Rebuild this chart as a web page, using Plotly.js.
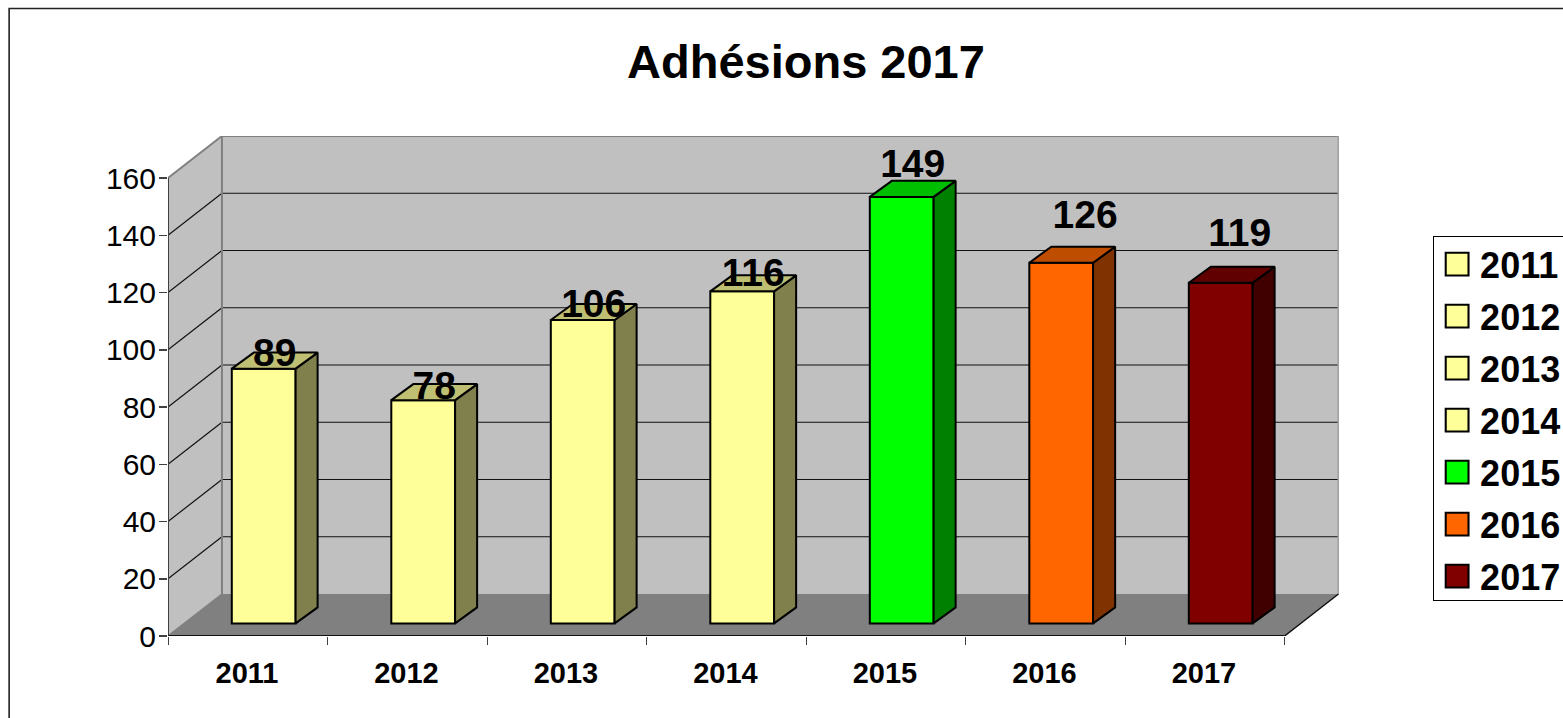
<!DOCTYPE html>
<html>
<head>
<meta charset="utf-8">
<script src="https://cdn.plot.ly/plotly-3.0.1.min.js"></script>
<style>html,body{margin:0;padding:0;background:#fff;overflow:hidden}</style>
</head>
<body>
<div id="chart" style="width:1563px;height:718px"></div>
<script>
// ---- data ----
const years = ['2011','2012','2013','2014','2015','2016','2017'];
const adhesions = [89,78,106,116,149,126,119];
const yTicks = [0,20,40,60,80,100,120,140,160];
// ---- colours ----
const frontColors = ['#FFFF99','#FFFF99','#FFFF99','#FFFF99','#00FF00','#FF6600','#800000'];
const topColors   = ['#BFBF73','#BFBF73','#BFBF73','#BFBF73','#00BF00','#BF4D00','#600000'];
const sideColors  = ['#80804D','#80804D','#80804D','#80804D','#008000','#803300','#400000'];
// ---- label nudges (value / category units) ----
const labelLift  = [4.7,4.1,4.5,5.5,10.4,15.7,16.4];
const labelShift = [0,0,0,0,0,0.081,0.05];
// ---- pseudo-3D geometry, in axis units ----
const FONT = '"Liberation Sans", Arial, sans-serif';
const L = 167.5, R = 1339.5, T = 136, B = 636, W = 1563, H = 718;
const catPx = 159.64, valPx = 2.8625;
const xMin = -0.5, xMax = xMin + (R - L) / catPx, yMax = (B - T) / valPx;
const wallDx = 54 / catPx, wallDy = yMax - 160;
const barOffset = 0.1, barBase = 4.4, barWidth = 0.4;
const barDx = 0.138, barDy = 5.6;
const xEnd = 6.5;

const px = v => (v - L) / (R - L);
const py = v => (B - v) / (B - T);

function poly(xs, ys, color, lineColor, lw, layer) {
  const d = xs.map((x, i) => (i ? 'L' : 'M') + x + ',' + ys[i]).join(' ') + ' Z';
  return {type:'path', xref:'x', yref:'y', path:d, fillcolor:color,
          line:{color:lineColor, width:lw}, layer:layer || 'below'};
}
function seg(x0, y0, x1, y1, color, lw) {
  return {type:'line', xref:'x', yref:'y', x0, y0, x1, y1,
          line:{color, width:lw}, layer:'below'};
}

const shapes = [];
// outer frame
shapes.push({type:'rect', xref:'paper', yref:'paper', x0:px(8.5), x1:px(W + 20), y0:py(8.5), y1:py(H + 20),
             line:{color:'#222', width:1.6}, fillcolor:'rgba(0,0,0,0)', layer:'below'});
// side wall, back wall, floor
shapes.push(poly([xMin,xMin+wallDx,xMin+wallDx,xMin],[0,wallDy,160+wallDy,160],'#C0C0C0','#C0C0C0',0));
shapes.push(poly([xMin+wallDx,xEnd+wallDx,xEnd+wallDx,xMin+wallDx],[wallDy,wallDy,160+wallDy,160+wallDy],'#C0C0C0','#C0C0C0',0));
shapes.push(poly([xMin,xEnd,xEnd+wallDx,xMin+wallDx],[0,0,wallDy,wallDy],'#808080','#808080',0));
// gridlines
yTicks.slice(1,-1).forEach(v => {
  shapes.push(seg(xMin, v, xMin+wallDx, v+wallDy, '#111', 1.2));
  shapes.push(seg(xMin+wallDx, v+wallDy, xEnd+wallDx, v+wallDy, '#111', 1.2));
});
// wall outline
shapes.push(seg(xMin, 160, xMin+wallDx, 160+wallDy, '#808080', 2));
shapes.push(seg(xMin+wallDx, 160+wallDy, xEnd+wallDx, 160+wallDy, '#808080', 2));
shapes.push(seg(xMin+wallDx, wallDy, xMin+wallDx, 160+wallDy, '#808080', 2));
shapes.push(seg(xEnd+wallDx, wallDy, xEnd+wallDx, 160+wallDy, '#A0A0A0', 2));
shapes.push(seg(xMin, 0, xMin+wallDx, wallDy, '#808080', 1.5));
// axis and floor edges
shapes.push(seg(xMin, 0, xMin, 160, '#404040', 2));
shapes.push(seg(xMin, 0, xEnd, 0, '#111', 2));
shapes.push(seg(xEnd, 0, xEnd+wallDx, wallDy, '#111', 1.5));

const traces = [];
// front faces (also the legend entries)
years.forEach((yr, i) => {
  traces.push({type:'bar', name:yr, x:[i+barOffset], y:[adhesions[i]], base:[barBase], width:barWidth,
    marker:{color:frontColors[i], line:{color:'#000', width:2}}, hoverinfo:'skip', legendgroup:yr});
});
// side and top faces
years.forEach((yr, i) => {
  const xr = i + barOffset + barWidth / 2, xl = xr - barWidth;
  const top = barBase + adhesions[i];
  traces.push({type:'scatter', mode:'lines', showlegend:false, hoverinfo:'skip', fill:'toself',
    x:[xr, xr+barDx, xr+barDx, xr, xr], y:[barBase, barBase+barDy, top+barDy, top, barBase],
    fillcolor:sideColors[i], line:{color:'#000', width:2}});
  traces.push({type:'scatter', mode:'lines', showlegend:false, hoverinfo:'skip', fill:'toself',
    x:[xl, xl+barDx, xr+barDx, xr, xl], y:[top, top+barDy, top+barDy, top, top],
    fillcolor:topColors[i], line:{color:'#000', width:2}});
});
// value labels
traces.push({type:'scatter', mode:'text', showlegend:false, hoverinfo:'skip', cliponaxis:false,
  x:years.map((_, i) => i + barOffset + barDx / 2 + labelShift[i]),
  y:adhesions.map((v, i) => v + 4.2 + labelLift[i]),
  text:adhesions.map(String), textposition:'middle center',
  textfont:{family:FONT, size:39, color:'#000', weight:700}});

const layout = {
  width:W, height:H, showlegend:true, barmode:'overlay',
  paper_bgcolor:'#fff', plot_bgcolor:'rgba(0,0,0,0)',
  margin:{l:L, r:W-R, t:T, b:H-B, pad:0, autoexpand:false},
  title:{text:'<b>Adhésions 2017</b>', x:px(806), xref:'paper', xanchor:'center',
         y:1 - 62 / H, yref:'container', yanchor:'middle',
         font:{family:FONT, size:47, color:'#000'}},
  xaxis:{type:'linear', range:[xMin,xMax], showgrid:false, zeroline:false, showline:false,
         tickmode:'array', tickvals:years.map((_, i) => i-0.005), ticktext:years, ticks:'',
         ticklabelstandoff:17,
         tickfont:{family:FONT, size:29, color:'#000', weight:700},
         minor:{tickmode:'array', tickvals:years.map((_, i) => i-0.5).concat([xEnd]),
                ticks:'outside', ticklen:8, tickwidth:1, tickcolor:'#404040', showgrid:false}},
  yaxis:{type:'linear', range:[0,yMax], showgrid:false, zeroline:false, showline:false,
         tickmode:'array', tickvals:yTicks, ticks:'outside', ticklen:8, tickwidth:1.5, tickcolor:'#404040',
         ticklabelstandoff:-3,
         tickfont:{family:FONT, size:30, color:'#000'}},
  legend:{x:px(1433.5), xanchor:'left', y:py(236), yanchor:'top', xref:'paper', yref:'paper',
          bgcolor:'#fff', bordercolor:'#000', borderwidth:1.2,
          itemwidth:36, tracegroupgap:2.2, traceorder:'grouped', itemclick:false, itemdoubleclick:false,
          font:{family:FONT, size:36, color:'#000', weight:700}},
  shapes
};

Plotly.newPlot('chart', traces, layout, {displayModeBar:false, staticPlot:true}).then(() => {
  // the library caps legend swatches at 12px; the reference uses 23px squares
  document.querySelectorAll('.legend .legendpoints path').forEach(p => {
    const d = p.getAttribute('d');
    if (!d) return;
    const tr = p.getAttribute('transform') || '';
    p.setAttribute('transform', tr + ' scale(1.9)');
    p.style.strokeWidth = '1.1px';
  });
  // tighten the legend box to the reference's 364px height
  const bg = document.querySelector('.legend .bg');
  if (bg) bg.setAttribute('height', 364);
  const box = document.querySelector('.legend .scrollbox');
  if (box) box.setAttribute('transform', 'translate(0,-3)');
});
</script>
</body>
</html>
